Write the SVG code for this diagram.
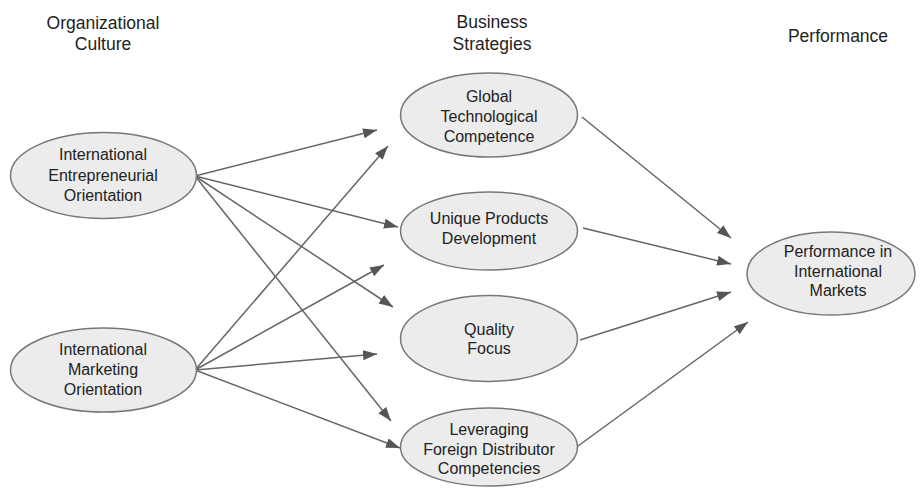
<svg xmlns="http://www.w3.org/2000/svg" width="920" height="491" viewBox="0 0 920 491">
  <style>
    .node ellipse { fill: #ececec; stroke: #777777; stroke-width: 1.5; }
    .node text { font-family: "Liberation Sans", Arial, sans-serif; font-size: 16px; fill: #222222; text-anchor: middle; }
    .head { font-family: "Liberation Sans", Arial, sans-serif; font-size: 17.5px; fill: #222222; text-anchor: middle; }
    .edges line { stroke: #666666; stroke-width: 1.5; fill: none; marker-end: url(#arrow); }
  </style>
  <defs>
    <marker id="arrow" markerUnits="userSpaceOnUse" markerWidth="15" markerHeight="11" refX="14" refY="5" orient="auto">
      <path d="M0,0 L14,5 L0,10 z" fill="#555555"/>
    </marker>
  </defs>
  <rect width="920" height="491" fill="#ffffff"/>

  <!-- column headings -->
  <g id="headings">
    <text class="head" x="103" y="29">Organizational</text>
    <text class="head" x="103" y="50">Culture</text>
    <text class="head" x="492" y="28">Business</text>
    <text class="head" x="492" y="50">Strategies</text>
    <text class="head" x="838" y="42">Performance</text>
  </g>

  <!-- connectors -->
  <g id="connectors" class="edges">
    <line x1="195" y1="176" x2="377" y2="130"/>
    <line x1="195" y1="176" x2="398" y2="227"/>
    <line x1="195" y1="176" x2="393" y2="307"/>
    <line x1="195" y1="176" x2="391" y2="421"/>
    <line x1="195" y1="370" x2="388" y2="146"/>
    <line x1="195" y1="370" x2="384" y2="265"/>
    <line x1="195" y1="370" x2="377" y2="354"/>
    <line x1="195" y1="370" x2="400" y2="448"/>
    <line x1="582" y1="117" x2="731" y2="238"/>
    <line x1="583" y1="228" x2="731" y2="264"/>
    <line x1="580" y1="340" x2="731" y2="292"/>
    <line x1="578" y1="446" x2="748" y2="322"/>
  </g>

  <g id="ieo" class="node">
    <ellipse cx="103.5" cy="175.5" rx="93" ry="43"/>
    <text x="103" y="160">International</text>
    <text x="103" y="180.5">Entrepreneurial</text>
    <text x="103" y="200.5">Orientation</text>
  </g>

  <g id="imo" class="node">
    <ellipse cx="103.5" cy="370" rx="93" ry="42"/>
    <text x="103" y="355">International</text>
    <text x="103" y="375">Marketing</text>
    <text x="103" y="395">Orientation</text>
  </g>

  <g id="gtc" class="node">
    <ellipse cx="489" cy="115" rx="88.5" ry="42"/>
    <text x="489" y="101.5">Global</text>
    <text x="489" y="121.5">Technological</text>
    <text x="489" y="141.5">Competence</text>
  </g>

  <g id="upd" class="node">
    <ellipse cx="489" cy="231" rx="88.5" ry="39"/>
    <text x="489" y="223.5">Unique Products</text>
    <text x="489" y="243.5">Development</text>
  </g>

  <g id="qf" class="node">
    <ellipse cx="489" cy="338.5" rx="88.5" ry="43"/>
    <text x="489" y="335">Quality</text>
    <text x="489" y="354">Focus</text>
  </g>

  <g id="lfdc" class="node">
    <ellipse cx="489" cy="447" rx="88.5" ry="39"/>
    <text x="489" y="435">Leveraging</text>
    <text x="489" y="455">Foreign Distributor</text>
    <text x="489" y="474">Competencies</text>
  </g>

  <g id="pim" class="node">
    <ellipse cx="831" cy="273.5" rx="84" ry="41.5"/>
    <text x="838" y="257">Performance in</text>
    <text x="838" y="277">International</text>
    <text x="838" y="296">Markets</text>
  </g>
</svg>
